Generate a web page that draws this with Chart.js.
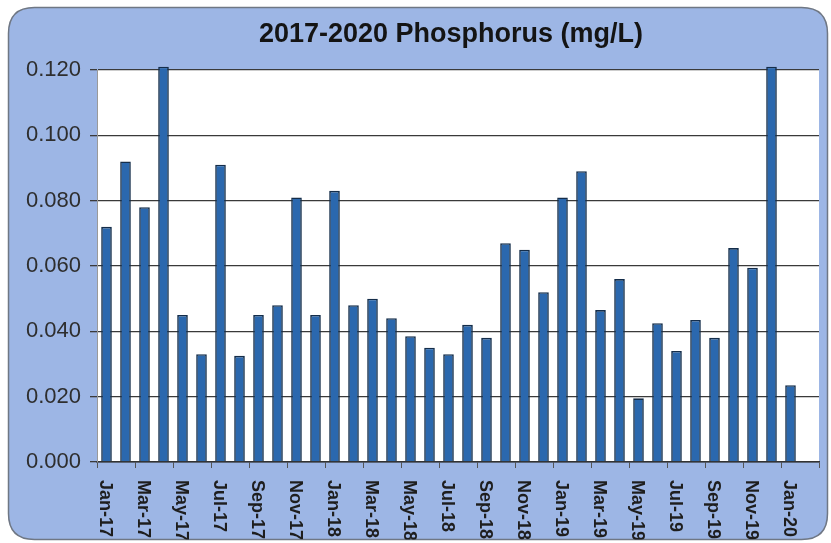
<!DOCTYPE html>
<html>
<head>
<meta charset="utf-8">
<script src="https://cdn.jsdelivr.net/npm/chart.js@4.4.1/dist/chart.umd.min.js"></script>
<style>
  html, body { margin: 0; padding: 0; background: #ffffff; }
  #wrap { width: 831px; height: 543px; }
</style>
</head>
<body>
<div id="wrap"><canvas id="c" width="831" height="543"></canvas></div>
<script>
// Monthly sampling dates (Feb-20 has no sample yet)
const months = [
  'Jan-17','Feb-17','Mar-17','Apr-17','May-17','Jun-17','Jul-17','Aug-17','Sep-17','Oct-17','Nov-17','Dec-17',
  'Jan-18','Feb-18','Mar-18','Apr-18','May-18','Jun-18','Jul-18','Aug-18','Sep-18','Oct-18','Nov-18','Dec-18',
  'Jan-19','Feb-19','Mar-19','Apr-19','May-19','Jun-19','Jul-19','Aug-19','Sep-19','Oct-19','Nov-19','Dec-19',
  'Jan-20','Feb-20'
];

// Total phosphorus, mg/L
const phosphorus = [
  0.072, 0.092, 0.078, 0.121, 0.045, 0.033, 0.091, 0.0325, 0.045, 0.048, 0.081, 0.045,
  0.083, 0.048, 0.050, 0.044, 0.0385, 0.035, 0.033, 0.042, 0.038, 0.067, 0.065, 0.052,
  0.081, 0.089, 0.0465, 0.056, 0.0195, 0.0425, 0.034, 0.0435, 0.038, 0.0655, 0.0595, 0.121,
  0.0235, null
];

// Value axis
const yMin = 0;
const yMax = 0.12;
const yStep = 0.02;

const chartTitle = '2017-2020 Phosphorus (mg/L)';

const FONT = '"Liberation Sans", Arial, Helvetica, sans-serif';

function framePath(ctx, x, y, w, h, r) {
  ctx.beginPath();
  ctx.moveTo(x + r, y);
  ctx.lineTo(x + w - r, y);
  ctx.quadraticCurveTo(x + w, y, x + w, y + r);
  ctx.lineTo(x + w, y + h - r);
  ctx.quadraticCurveTo(x + w, y + h, x + w - r, y + h);
  ctx.lineTo(x + r, y + h);
  ctx.quadraticCurveTo(x, y + h, x, y + h - r);
  ctx.lineTo(x, y + r);
  ctx.quadraticCurveTo(x, y, x + r, y);
  ctx.closePath();
}

const FRAME = { x: 8.5, y: 7.5, w: 819, h: 532, r: 26 };

// Rounded blue panel behind the chart and white plot area
const panelPlugin = {
  id: 'panel',
  beforeDraw(chart) {
    const ctx = chart.ctx;
    const a = chart.chartArea;
    ctx.save();
    framePath(ctx, FRAME.x, FRAME.y, FRAME.w, FRAME.h, FRAME.r);
    ctx.fillStyle = '#9db6e5';
    ctx.fill();
    ctx.lineWidth = 1.5;
    ctx.strokeStyle = '#6f7784';
    ctx.stroke();
    ctx.fillStyle = '#ffffff';
    ctx.fillRect(a.left, a.top, a.right - a.left, a.bottom - a.top);
    ctx.restore();
  },
  afterDraw(chart) {
    const ctx = chart.ctx;
    const xs = chart.scales.x;
    ctx.save();
    // title
    ctx.fillStyle = '#141414';
    ctx.font = 'bold 27px ' + FONT;
    ctx.textAlign = 'center';
    ctx.textBaseline = 'alphabetic';
    ctx.fillText(chartTitle, 451, 42);
    // month labels, every second month, reading downward
    framePath(ctx, FRAME.x, FRAME.y, FRAME.w, FRAME.h, FRAME.r);
    ctx.clip();
    ctx.fillStyle = '#1e1e1e';
    ctx.font = 'bold 18px ' + FONT;
    ctx.textAlign = 'left';
    ctx.textBaseline = 'middle';
    months.forEach((m, i) => {
      if (i % 2 !== 0) return;
      const x = xs.getPixelForValue(i) - 2;
      ctx.save();
      ctx.translate(x, xs.bottom - 63);
      ctx.rotate(Math.PI / 2);
      ctx.fillText(m, 0, 0);
      ctx.restore();
    });
    ctx.restore();
  }
};

new Chart(document.getElementById('c'), {
  type: 'bar',
  data: {
    labels: months,
    datasets: [{
      data: phosphorus,
      backgroundColor: '#2b68ae',
      borderColor: '#142d4a',
      borderWidth: 1.6,
      barPercentage: 0.56,
      categoryPercentage: 1,
      clip: false
    }]
  },
  options: {
    responsive: false,
    devicePixelRatio: 1,
    animation: false,
    layout: { padding: { top: 70, right: 12, bottom: 0, left: 0 } },
    plugins: {
      legend: { display: false },
      title: { display: false },
      tooltip: { enabled: false }
    },
    scales: {
      x: {
        type: 'category',
        offset: true,
        afterFit(scale) { scale.height = 81; },
        ticks: { display: false, autoSkip: false },
        grid: {
          offset: true,
          drawOnChartArea: false,
          drawTicks: true,
          tickLength: 6,
          lineWidth: 1,
          color: (ctx) => (ctx.index === undefined || ctx.index % 2 === 0) ? '#555555' : 'rgba(0,0,0,0)'
        },
        border: { display: true, color: '#333333', width: 1.5 }
      },
      y: {
        min: yMin,
        max: yMax,
        afterFit(scale) { scale.width = 97; },
        ticks: {
          stepSize: yStep,
          padding: 9,
          color: '#2e2e2e',
          font: { family: FONT, size: 22 },
          callback: (v) => Number(v).toFixed(3)
        },
        grid: {
          color: '#3a3a3a',
          lineWidth: 1.3,
          tickLength: 7,
          drawTicks: true
        },
        border: { display: true, color: '#9a9a9a', width: 1 }
      }
    }
  },
  plugins: [panelPlugin]
});
</script>
</body>
</html>
